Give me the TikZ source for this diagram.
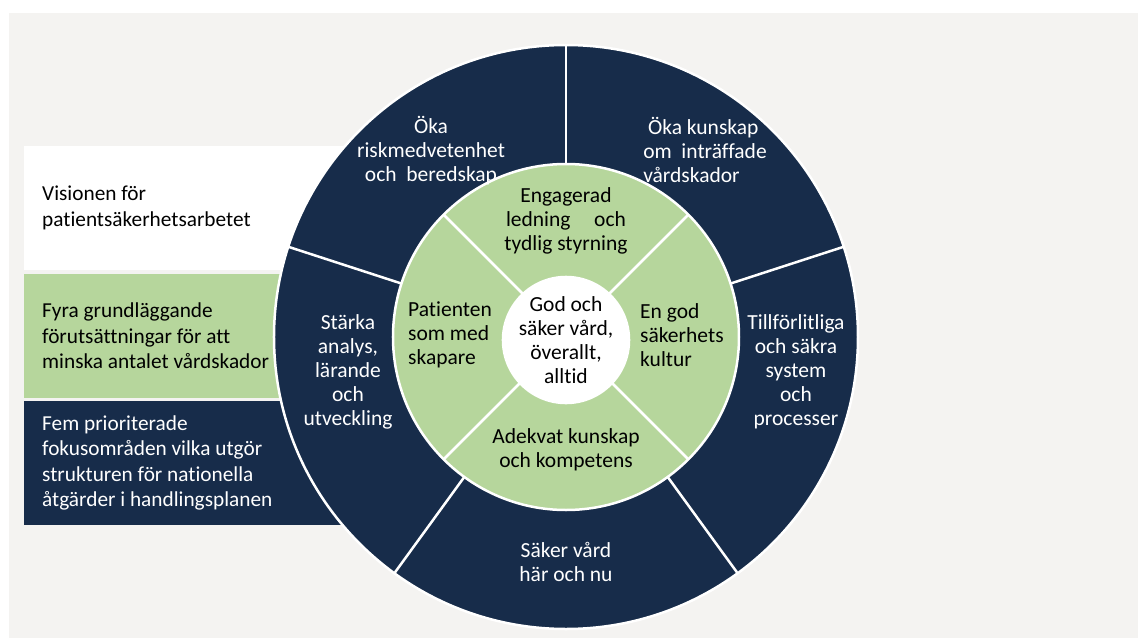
\documentclass[tikz,border=0pt]{standalone}
\usepackage{fontspec}
\setmainfont{Carlito}[Ligatures=NoCommon]
\usepackage{xcolor}
\definecolor{navy}{HTML}{172C4A}
\definecolor{sage}{HTML}{B6D69C}
\definecolor{paper}{HTML}{F4F3F1}

\begin{document}
\begin{tikzpicture}[x=1pt, y=1pt,
  legend/.style={anchor=west, align=left, inner sep=0pt, font=\fontsize{21.3}{25.5}\selectfont},
  outertext/.style={text=white, align=center, inner sep=0pt, font=\fontsize{21.5}{24}\selectfont},
  innertext/.style={text=black, align=center, inner sep=0pt, font=\fontsize{21.5}{24}\selectfont},
  divider/.style={white, line width=2.5pt}]
  \useasboundingbox (-566,-301) rectangle (572,337);
  \fill[paper] (-557,-301) rectangle (572,324);
  \fill[white] (-542,191) rectangle (-200,67);
  \fill[sage] (-542,63) rectangle (-200,-61);
  \fill[navy] (-542,-64) rectangle (-200,-188);
  \node[legend] (vision) at (-524,129) {Visionen för\\patientsäkerhetsarbetet};
  \node[legend] (fyra) at (-524,1) {Fyra grundläggande\\förutsättningar för att\\minska antalet vårdskador};
  \node[legend, text=white] (fem) at (-524,-126) {Fem prioriterade\\fokusområden vilka utgör\\strukturen för nationella\\åtgärder i handlingsplanen};
  \draw[divider, fill=navy] (0,0) circle (292pt);
  \foreach \a in {90,18,-54,-126,162}
    \draw[divider] (\a:173) -- (\a:293);
  \draw[divider, fill=sage] (0,0) circle (173pt);
  \foreach \a in {45,135,225,315}
    \draw[divider] (\a:60) -- (\a:173);
  \node[circle, fill=white, minimum size=120pt, inner sep=0pt, innertext] (core) at (0,-3) {God och\\säker vård,\\överallt,\\alltid};
  \node[innertext] (ledning) at (0,116) {Engagerad\\ledning\hspace{1.1em}och\\tydlig styrning};
  \node[innertext, align=left, anchor=west] (patient) at (-158,2) {Patienten\\som med\\skapare};
  \node[innertext, align=left, anchor=west] (kultur) at (74,2) {En god\\säkerhets\\kultur};
  \node[innertext] (kompetens) at (0,-113) {Adekvat kunskap\\och kompetens};
  \node[outertext] (risk) at (-135,186) {Öka\\riskmedvetenhet\\och\ \ beredskap};
  \node[outertext, align=left] (kunskap) at (139,187) {\ Öka kunskap\\om\ \ inträffade\\vårdskador};
  \node[outertext] (system) at (230,-35) {Tillförlitliga\\och säkra\\system\\och\\processer};
  \node[outertext] (harnu) at (0,-225) {Säker vård\\här och nu};
  \node[outertext] (analys) at (-218,-35) {Stärka\\analys,\\lärande\\och\\utveckling};
\end{tikzpicture}
\end{document}
